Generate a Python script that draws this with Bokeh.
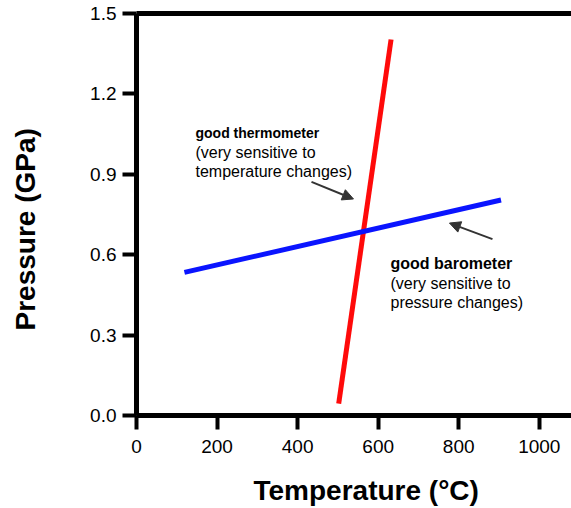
from bokeh.plotting import figure
from bokeh.models import (Range1d, FixedTicker, PrintfTickFormatter, LinearAxis,
                          Label, Arrow, NormalHead, Title)
from bokeh.embed import file_html
from bokeh.resources import INLINE

# ---- data ----
x_ticks = [0, 200, 400, 600, 800, 1000]
y_ticks = [0.0, 0.3, 0.6, 0.9, 1.2, 1.5]
thermo_T = [502, 632]          # red line: temperature (°C)
thermo_P = [0.044, 1.403]      # red line: pressure (GPa)
baro_T = [119, 905]            # blue line
baro_P = [0.534, 0.804]
x_title = "Temperature (°C)"
y_title = "Pressure (GPa)"

FONT = "Liberation Sans"

p = figure(width=571, height=508, output_backend="svg", toolbar_location=None,
           x_range=Range1d(0, 1080), y_range=Range1d(0, 1.5),
           min_border_left=136, min_border_right=0, min_border_top=13,
           min_border_bottom=93)
p.outline_line_color = None
p.xgrid.visible = False
p.ygrid.visible = False
p.background_fill_color = "white"
p.border_fill_color = "white"

p.line(thermo_T, thermo_P, line_color="#ff0a0a", line_width=5, line_cap="butt")
p.line(baro_T, baro_P, line_color="#0a14ff", line_width=5, line_cap="butt")

for ax in (p.xaxis[0], p.yaxis[0]):
    ax.axis_line_width = 5
    ax.axis_line_color = "black"
    ax.major_tick_line_width = 4
    ax.major_tick_line_color = "black"
    ax.major_tick_out = 14
    ax.major_tick_in = 0
    ax.minor_tick_out = 0
    ax.minor_tick_in = 0
    ax.major_label_text_font = FONT
    ax.major_label_text_font_size = "19px"
    ax.major_label_text_color = "black"

p.xaxis[0].ticker = FixedTicker(ticks=x_ticks)
p.xaxis[0].formatter = PrintfTickFormatter(format="%d")
p.xaxis[0].major_label_standoff = 10

p.yaxis[0].ticker = FixedTicker(ticks=y_ticks)
p.yaxis[0].formatter = PrintfTickFormatter(format="%.1f")
p.yaxis[0].major_label_standoff = 6


def spacer(size, at):
    # blank axis panel that only reserves room (one white tick near a corner)
    return LinearAxis(ticker=FixedTicker(ticks=[at]),
                      major_label_overrides={at: ""},
                      axis_line_color=None,
                      major_label_text_font_size="0px", major_label_standoff=0,
                      major_tick_line_color="white", major_tick_line_width=1,
                      minor_tick_line_color=None,
                      major_tick_out=size, major_tick_in=0,
                      minor_tick_out=0, minor_tick_in=0)


# top frame line
p.add_layout(LinearAxis(ticker=FixedTicker(ticks=[]), axis_line_width=5,
                        axis_line_color="black", major_label_text_font_size="0px",
                        major_tick_out=0, major_tick_in=0,
                        minor_tick_out=0, minor_tick_in=0), "above")

# spacers that push the axis titles outward
p.add_layout(spacer(16, 1075), "below")
p.add_layout(spacer(46, 1.49), "left")

# axis titles
p.add_layout(Title(text=x_title, text_font=FONT, text_font_size="28px",
                   text_font_style="bold", text_color="black",
                   align="left", offset=117, standoff=2), "below")
p.add_layout(Title(text=y_title, text_font=FONT, text_font_size="28px",
                   text_font_style="bold", text_color="black",
                   align="left", offset=85, standoff=2), "left")

# annotations
def add_lines(x, ys, lines, bold_size):
    for i, (yy, t) in enumerate(zip(ys, lines)):
        p.add_layout(Label(x=x, y=yy, text=t, text_font=FONT,
                           text_font_size=bold_size if i == 0 else "16px",
                           text_font_style="bold" if i == 0 else "normal",
                           text_color="black", text_baseline="alphabetic",
                           text_align="left"))

add_lines(146.5, [1.055, 0.982, 0.909],
          ["good thermometer", "(very sensitive to", "temperature changes)"], "14px")
add_lines(630.6, [0.5686, 0.4937, 0.4226],
          ["good barometer", "(very sensitive to", "pressure changes)"], "16px")

p.add_layout(Arrow(x_start=434.5, y_start=0.8716, x_end=538.7, y_end=0.808,
                   line_color="#333333", line_width=2,
                   end=NormalHead(size=11, fill_color="#333333", line_color="#333333")))
p.add_layout(Arrow(x_start=883.8, y_start=0.658, x_end=777, y_end=0.718,
                   line_color="#333333", line_width=2,
                   end=NormalHead(size=11, fill_color="#333333", line_color="#333333")))

open("out.html", "w").write(file_html(p, INLINE))
